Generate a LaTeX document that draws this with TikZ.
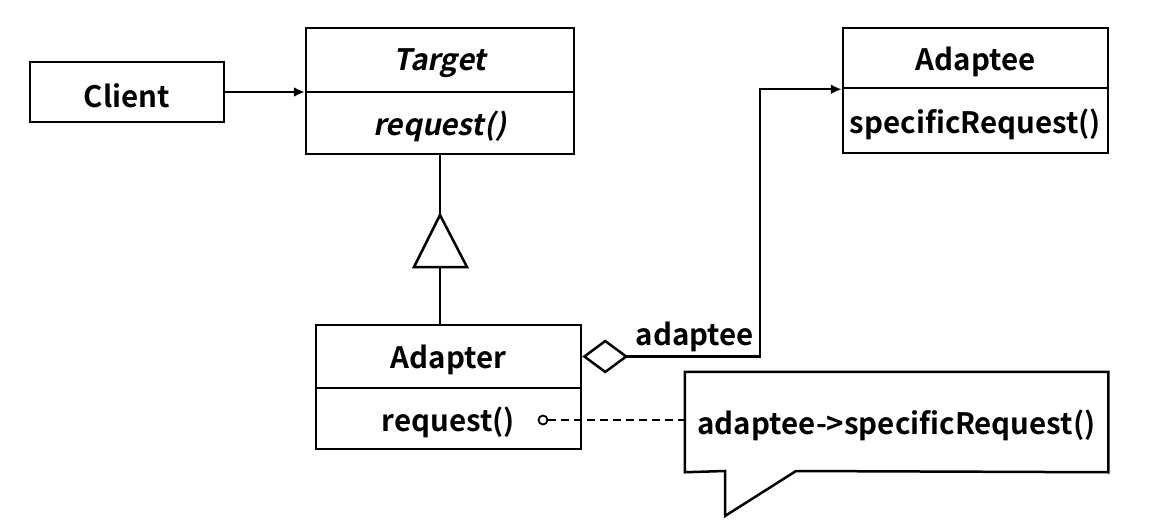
\documentclass[tikz,border=0pt]{standalone}
\usepackage{fontspec}
\setmainfont{Noto Sans CJK KR}[BoldFont={Noto Sans CJK KR Bold},BoldItalicFont={Noto Sans CJK KR Bold},BoldItalicFeatures={FakeSlant=0.2},ItalicFont={Noto Sans CJK KR},ItalicFeatures={FakeSlant=0.2}]
\usetikzlibrary{arrows.meta}
\newcommand{\lowtxt}[1]{\raisebox{-3.5pt}[\height][\depth]{#1}}
\begin{document}
\begin{tikzpicture}[x=1pt,y=-1pt,line width=2.5pt,
  font=\fontsize{29.5}{34}\selectfont\bfseries,
  box/.style={draw,rectangle,inner sep=0pt,line width=2.5pt},
  filltip/.style={-{Latex[length=11pt,width=10pt]}}]
\useasboundingbox (0,0) rectangle (1156,532);
% Client
\node[box,minimum width=194pt,minimum height=60pt] (client) at (127,92) {\lowtxt{Client}};
% Target
\node[box,minimum width=268pt,minimum height=64pt] (targetT) at (440,60) {\lowtxt{\itshape Target}};
\node[box,minimum width=268pt,minimum height=62pt] (targetB) at (440,123) {\lowtxt{\itshape request()}};
% Adapter
\node[box,minimum width=265pt,minimum height=63pt] (adapterT) at (448.5,356.5) {\lowtxt{Adapter}};
\node[box,minimum width=265pt,minimum height=61pt] (adapterB) at (448.5,418.5) {\lowtxt{request()}};
% Adaptee
\node[box,minimum width=265pt,minimum height=60pt] (adapteeT) at (975.5,58) {\lowtxt{Adaptee}};
\node[box,minimum width=265pt,minimum height=65pt] (adapteeB) at (975.5,120.5) {\lowtxt{specificRequest()}};
% callout
\node[inner sep=0pt,minimum width=421pt,minimum height=98pt] (note) at (896.5,422) {\lowtxt{adaptee->specificRequest()}};
\draw (note.north west) -- (note.north east) -- (note.south east) -- (796,471) -- (725,516) -- (725,471) -- (note.south west) -- cycle;
% client -> target
\draw[filltip] (client.east) -- (client.east -| targetT.west);
% generalization
\coordinate (triTop) at (440,215);
\coordinate (triBase) at (440,267);
\draw (targetB.south) -- (triTop);
\draw (triTop) -- (414,267) -- (467,267) -- cycle;
\draw (triBase) -- (triBase |- adapterT.north);
% aggregation
\coordinate (bend) at (760,356.5);
\draw[{Diamond[open,length=46pt,width=34pt]}-{Latex[length=11pt,width=10pt]}] (adapterT.east) -- (bend) |- (adapteeT.south west);
\node[anchor=center] (lbl) at (695,333) {\lowtxt{adaptee}};
% note link
\node[draw,circle,fill=white,inner sep=0pt,minimum size=9pt,line width=1.8pt] (dot) at (543,420) {};
\draw[dashed,dash pattern=on 8pt off 5pt] (dot.east) -- (dot -| note.west);
\end{tikzpicture}
\end{document}
